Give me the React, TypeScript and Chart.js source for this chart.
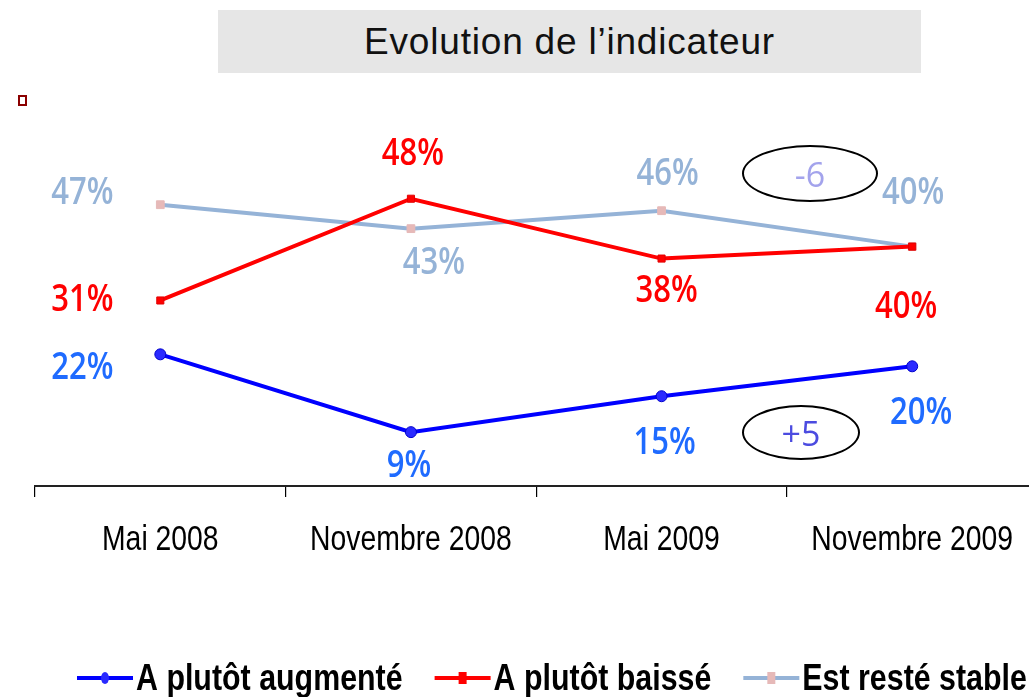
import React, { useEffect, useRef } from "react";
import { Chart, registerables } from "chart.js";

Chart.register(...registerables);

const categories = ["Mai 2008", "Novembre 2008", "Mai 2009", "Novembre 2009"];
const augmente = [22, 9, 15, 20];
const baisse = [31, 48, 38, 40];
const stable = [47, 43, 46, 40];
const seriesNames = ["A plutôt augmenté", "A plutôt baissé", "Est resté stable"];
const titleText = "Evolution de l’indicateur";
const diffStable = "-6";
const diffAugmente = "+5";

// label offsets (px) from each point, per series
const labelOffsets = [
  [[-78, 14], [-2, 34], [3, 47], [9, 47]],
  [[-78, 0], [2, -44], [5, 33], [-6, 61]],
  [[-78, -11], [23, 35], [6, -36], [1, -53]],
];
const labelColors = ["#1F6BFF", "#FF0000", "#95B3D7"];

const labelPlugin = {
  id: "pctLabels",
  afterDatasetsDraw(chart: any) {
    const ctx = chart.ctx;
    chart.data.datasets.forEach((ds: any, i: number) => {
      const meta = chart.getDatasetMeta(i);
      meta.data.forEach((pt: any, j: number) => {
        const [dx, dy] = labelOffsets[i][j];
        ctx.save();
        ctx.translate(pt.x + dx, pt.y + dy);
        ctx.scale(1, 1.2);
        ctx.font = "600 31px 'Open Sans'";
        ctx.fillStyle = labelColors[i];
        ctx.textAlign = "center";
        ctx.textBaseline = "middle";
        ctx.fillText(ds.data[j] + "%", 0, 0);
        ctx.restore();
      });
    });
  },
};

// narrow (Arial Narrow-like) category labels drawn at the x scale's tick positions
const tickPlugin = {
  id: "narrowTicks",
  afterDraw(chart: any) {
    const ctx = chart.ctx;
    const xs = chart.scales.x;
    ctx.save();
    ctx.font = "35px 'Liberation Sans'";
    ctx.fillStyle = "#000";
    ctx.textAlign = "center";
    ctx.textBaseline = "alphabetic";
    chart.data.labels.forEach((lab: string, j: number) => {
      const x = xs.getPixelForValue(j);
      ctx.save();
      ctx.translate(x, 550);
      ctx.scale(0.81, 1);
      ctx.fillText(lab, 0, 0);
      ctx.restore();
    });
    ctx.restore();
  },
};

const legendPlugin = {
  id: "lineLegend",
  afterDraw(chart: any) {
    const ctx = chart.ctx;
    const y = 678;
    let x = 77;
    const sx = 0.81;
    ctx.save();
    ctx.font = "bold 37.5px 'Liberation Sans'";
    chart.data.datasets.forEach((ds: any) => {
      const lw = 56;
      ctx.strokeStyle = ds.borderColor;
      ctx.lineWidth = 4;
      ctx.beginPath();
      ctx.moveTo(x, y);
      ctx.lineTo(x + lw, y);
      ctx.stroke();
      const cx = x + lw / 2;
      ctx.fillStyle = ds.pointBackgroundColor;
      if (ds.pointStyle === "circle") {
        ctx.beginPath();
        ctx.ellipse(cx, y, 4, 6, 0, 0, Math.PI * 2);
        ctx.fill();
      } else {
        ctx.fillRect(cx - 4, y - 6, 8, 12);
      }
      ctx.fillStyle = "#000";
      ctx.textAlign = "left";
      ctx.textBaseline = "alphabetic";
      const tx = x + lw + 3;
      ctx.save();
      ctx.translate(tx, 690);
      ctx.scale(sx, 1);
      ctx.fillText(ds.label, 0, 0);
      ctx.restore();
      x = tx + ctx.measureText(ds.label).width * sx + 32;
    });
    ctx.restore();
  },
};

export default function App() {
  const canvasRef = useRef<HTMLCanvasElement | null>(null);

  useEffect(() => {
    if (!canvasRef.current) return;
    const chart = new Chart(canvasRef.current, {
      type: "line",
      data: {
        labels: categories,
        datasets: [
          {
            label: seriesNames[0],
            data: augmente,
            borderColor: "#0000FF",
            borderWidth: 4,
            pointStyle: "circle",
            pointRadius: 5.5,
            pointBackgroundColor: "#2A2AFF",
            pointBorderColor: "#0000CC",
            pointBorderWidth: 1,
            tension: 0,
          },
          {
            label: seriesNames[1],
            data: baisse,
            borderColor: "#FF0000",
            borderWidth: 4,
            pointStyle: "rect",
            pointRadius: 5,
            pointBackgroundColor: "#FF0000",
            pointBorderColor: "#E00000",
            pointBorderWidth: 1,
            tension: 0,
          },
          {
            label: seriesNames[2],
            data: stable,
            borderColor: "#95B3D7",
            borderWidth: 4,
            pointStyle: "rect",
            pointRadius: 5.5,
            pointBackgroundColor: "#E6B9B8",
            pointBorderColor: "#E6B9B8",
            pointBorderWidth: 1,
            tension: 0,
          },
        ],
      } as any,
      options: {
        responsive: false,
        animation: false,
        layout: { padding: { left: 35, top: 91, right: 3, bottom: 0 } },
        plugins: { legend: { display: false }, tooltip: { enabled: false }, title: { display: false } },
        scales: {
          x: {
            type: "category",
            offset: true,
            grid: { offset: true, drawOnChartArea: false, drawTicks: true, tickLength: 11, color: "#000", lineWidth: 1.2 },
            border: { display: true, color: "#222", width: 2 },
            ticks: { display: false, autoSkip: false },
            afterFit: (s: any) => {
              s.height = 211;
            },
          },
          y: { display: false, min: 0, max: 66 },
        },
      } as any,
      plugins: [labelPlugin, tickPlugin, legendPlugin],
    });
    return () => chart.destroy();
  }, []);

  const oval = (left: number, top: number, w: number, h: number, color: string, text: string) => (
    <div
      style={{
        position: "absolute",
        left,
        top,
        width: w,
        height: h,
        boxSizing: "border-box",
        border: "2px solid #000",
        borderRadius: "50%",
        display: "flex",
        alignItems: "center",
        justifyContent: "center",
        color,
        font: "34px 'Open Sans'",
      }}
    >
      {text}
    </div>
  );

  return (
    <div style={{ position: "absolute", left: 0, top: 0, width: 1029, height: 697, overflow: "hidden", background: "#fff" }}>
      <canvas ref={canvasRef} width={1044} height={697} style={{ position: "absolute", left: 0, top: 0 }} />
      <div
        style={{
          position: "absolute",
          left: 218,
          top: 10,
          width: 703,
          height: 63,
          background: "#E6E6E6",
          textAlign: "center",
          font: "37px 'Liberation Sans'",
          lineHeight: "63px",
          letterSpacing: "0.8px",
          color: "#111",
        }}
      >
        {titleText}
      </div>
      <div
        style={{
          position: "absolute",
          left: 18,
          top: 95,
          width: 9,
          height: 11,
          boxSizing: "border-box",
          border: "2.5px solid #8B0000",
          background: "#fff",
        }}
      />
      {oval(742, 145, 136, 57, "#A3A3EC", diffStable)}
      {oval(742, 405, 118, 55, "#4B4BE0", diffAugmente)}
    </div>
  );
}
